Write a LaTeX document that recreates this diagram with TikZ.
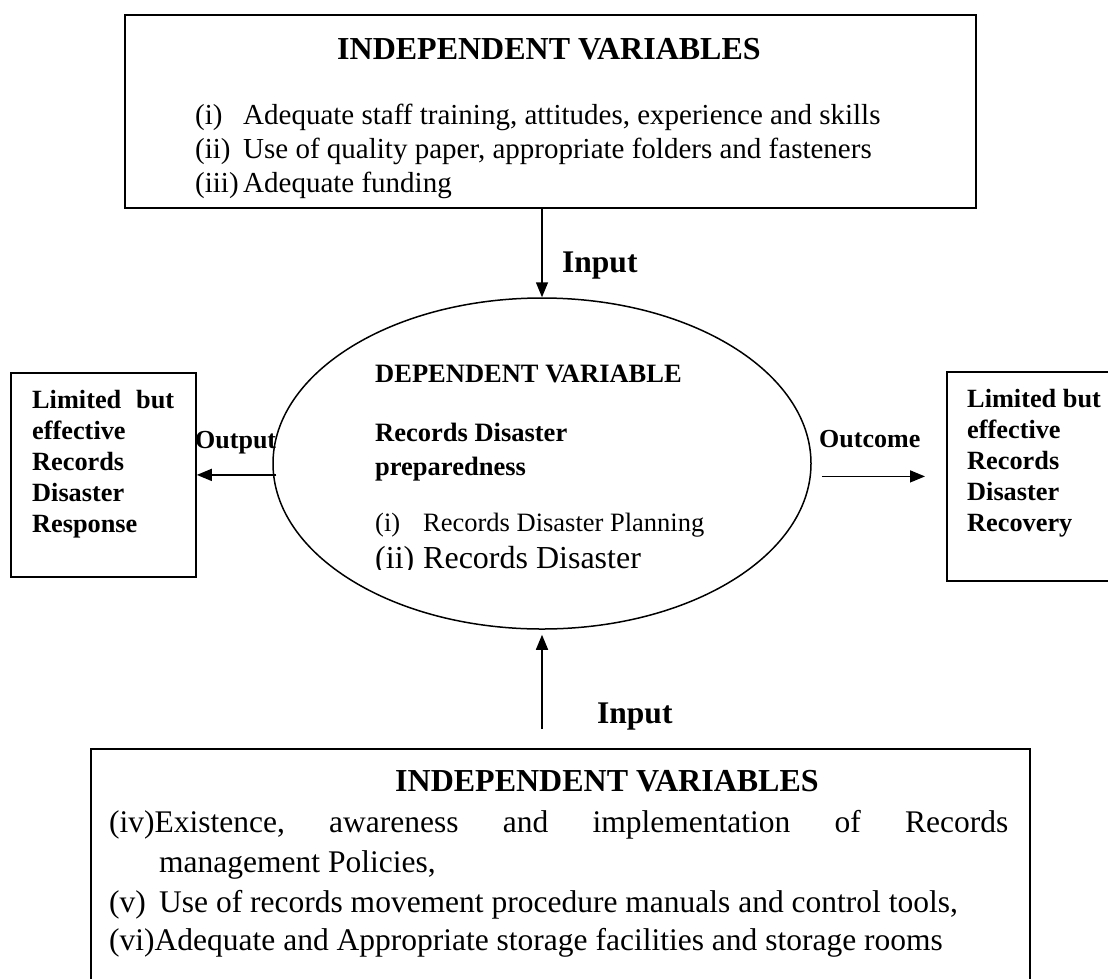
\documentclass[tikz,border=0pt]{standalone}
\usepackage{fontspec}
\setmainfont{Liberation Serif}
\usetikzlibrary{shapes.geometric,arrows.meta}
\newcommand\fsTitle{\fontsize{32}{38}\selectfont\bfseries}
\newcommand\fsTop{\fontsize{29}{35}\selectfont}
\newcommand\fsBot{\fontsize{31.5}{38}\selectfont}
\newcommand\fsSide{\fontsize{26.3}{31}\selectfont\bfseries}
\newcommand\fsEll{\fontsize{26.5}{31}\selectfont}
\newcommand\fsEllB{\fontsize{32}{38}\selectfont}
\newcommand\fsLab{\fontsize{31.5}{38}\selectfont\bfseries}
\newcommand\fsLabS{\fontsize{26}{31}\selectfont\bfseries}
\begin{document}
\begin{tikzpicture}[x=1pt,y=-1pt,
  boxsty/.style={draw, line width=1.8pt, inner sep=0pt, anchor=north west},
  txt/.style={anchor=base west, inner sep=0pt},
  arr/.style={-{Triangle[length=15pt,width=12pt]}, line width=1.5pt}]
\useasboundingbox (0,0) rectangle (1108,978);
% boxes
\node[boxsty, minimum width=851pt, minimum height=193pt] (topbox) at (124,14) {};
\node[boxsty, minimum width=185pt, minimum height=204pt] (lbox) at (10,372) {};
\node[boxsty, minimum width=170pt, minimum height=209pt] (rbox) at (946,371) {};
\node[boxsty, minimum width=939pt, minimum height=260pt] (bbox) at (90,748) {};
\node[ellipse, draw, line width=1.5pt, minimum width=538pt, minimum height=331pt, inner sep=0pt] (ell) at (542,463.5) {};
% connector end points
\path (bbox.north -| ell.south) ++(0,-19) coordinate (bstart);
\path (ell.south) ++(0,5) coordinate (bend);
\path (ell.west |- lbox.east) ++(4,0) coordinate (lstart);
\path (ell.east |- rbox.west) ++(10,0) coordinate (rstart);
\path (rbox.west) ++(-21,0) coordinate (rend);
% connectors
\draw[arr] (topbox.south -| ell.north) -- (ell.north);
\draw[arr] (bstart) -- (bend);
\draw[arr] (lstart) -- (lbox.east);
\draw[arr] (rstart) -- (rend);
% top box text
\node[txt, font=\fsTitle] (t0) at (337,59) {INDEPENDENT VARIABLES};
\node[txt, font=\fsTop] (t1) at (195,124) {\makebox[48pt][l]{(i)}Adequate staff training, attitudes, experience and skills};
\node[txt, font=\fsTop] (t2) at (195,158) {\makebox[48pt][l]{(ii)}Use of quality paper, appropriate folders and fasteners};
\node[txt, font=\fsTop] (t3) at (195,192) {\makebox[48pt][l]{(iii)}Adequate funding};
% labels
\node[txt, font=\fsLab] (inTop) at (562,272) {Input};
\node[txt, font=\fsLab] (inBot) at (597,723) {Input};
\node[txt, font=\fsLabS] (outp) at (195,448) {Output};
\node[txt, font=\fsLabS] (outc) at (819,447) {Outcome};
% ellipse text
\node[txt, font=\fsEll\bfseries] (e1) at (375,382) {DEPENDENT VARIABLE};
\node[txt, font=\fsEll\bfseries] (e2) at (375,441) {Records Disaster};
\node[txt, font=\fsEll\bfseries] (e3) at (375,475) {preparedness};
\node[txt, font=\fsEll] (e4) at (375,531) {\makebox[48pt][l]{(i)}Records Disaster Planning};
\begin{scope}
\clip (300,520) rectangle (800,569.5);
\node[txt, font=\fsEllB] (e5) at (375,568) {\makebox[48pt][l]{(ii)}Records Disaster};
\end{scope}
% left box text
\node[txt, font=\fsSide] (l1) at (32,408) {\hbox to 142pt{Limited\hfill but}};
\node[txt, font=\fsSide] (l2) at (32,439) {effective};
\node[txt, font=\fsSide] (l3) at (32,470) {Records};
\node[txt, font=\fsSide] (l4) at (32,501) {Disaster};
\node[txt, font=\fsSide] (l5) at (32,532) {Response};
% right box text
\node[txt, font=\fsSide] (r1) at (967,407) {Limited but};
\node[txt, font=\fsSide] (r2) at (967,438) {effective};
\node[txt, font=\fsSide] (r3) at (967,469) {Records};
\node[txt, font=\fsSide] (r4) at (967,500) {Disaster};
\node[txt, font=\fsSide] (r5) at (967,531) {Recovery};
% bottom box text
\node[txt, font=\fsTitle] (b0) at (395,791) {INDEPENDENT VARIABLES};
\node[txt, font=\fsBot] (b1) at (109,832) {\hbox to 899pt{(iv)Existence,\hfill awareness\hfill and\hfill implementation\hfill of\hfill Records}};
\node[txt, font=\fsBot] (b2) at (159,872) {management Policies,};
\node[txt, font=\fsBot] (b3) at (109,912) {\makebox[50pt][l]{(v)}Use of records movement procedure manuals and control tools,};
\node[txt, font=\fsBot] (b4) at (109,950) {(vi)Adequate and Appropriate storage facilities and storage rooms};
\end{tikzpicture}
\end{document}
